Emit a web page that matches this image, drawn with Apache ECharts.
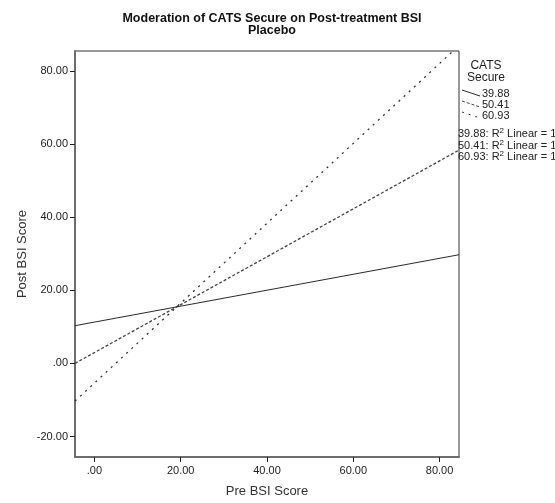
<!DOCTYPE html>
<html>
<head>
<meta charset="utf-8">
<script src="https://cdn.jsdelivr.net/npm/echarts@6/dist/echarts.min.js"></script>
<style>
  html, body { margin: 0; padding: 0; background: #fff; }
  #chart { width: 555px; height: 503px; }
</style>
</head>
<body>
<div id="chart"></div>
<script>
// Fit lines of Post BSI on Pre BSI at three levels of CATS Secure
const preBsi = [-4.5, 84.5];            // x endpoints of each fit line
const post3988 = [10.3, 29.7];          // CATS Secure = 39.88
const post5041 = [0.0, 58.3];           // CATS Secure = 50.41
const post6093 = [-10.3, 86.9];         // CATS Secure = 60.93
const secureLevels = ['39.88', '50.41', '60.93'];
const xTicks = [0, 20, 40, 60, 80];
const yTicks = [-20, 0, 20, 40, 60, 80];

const FONT = '"Liberation Sans", Arial, sans-serif';

function fmt(v) {
  if (v === 0) return '.00';
  return v.toFixed(2);
}

function pairs(xs, ys) {
  return xs.map((x, i) => [x, ys[i]]);
}

const lineStyles = [
  { color: '#2a2a2a', width: 1, type: 'solid' },
  { color: '#444444', width: 1.3, type: [3, 2] },
  { color: '#333333', width: 1.3, type: [2, 5] }
];
const seriesValues = [post3988, post5041, post6093];

const chart = echarts.init(document.getElementById('chart'), null, { renderer: 'canvas' });

const legendX = 462;
const legendRows = [94, 105, 116];
const legendGraphics = [];
legendRows.forEach((y, i) => {
  legendGraphics.push({
    type: 'line',
    shape: { x1: legendX, y1: y - 4, x2: legendX + 18, y2: y + 2 },
    style: { stroke: lineStyles[i].color, lineWidth: 1, lineDash: i === 0 ? null : lineStyles[i].type }
  });
  legendGraphics.push({
    type: 'text',
    x: legendX + 20, y: y,
    style: { text: secureLevels[i], font: '11px ' + FONT, fill: '#222', verticalAlign: 'middle', align: 'left' }
  });
});
[134, 146, 157].forEach((y, i) => {
  legendGraphics.push({
    type: 'text',
    x: 458, y: y,
    style: {
      text: secureLevels[i] + ': R{sup|2} Linear = 1',
      font: '11px ' + FONT, fill: '#222', verticalAlign: 'middle', align: 'left',
      rich: { sup: { fontSize: 8, verticalAlign: 'top', padding: [0, 0, 7, 0], fontFamily: FONT } }
    }
  });
});
legendGraphics.push({
  type: 'text', x: 486, y: 66,
  style: { text: 'CATS', font: '12px ' + FONT, fill: '#222', align: 'center', verticalAlign: 'middle' }
});
legendGraphics.push({
  type: 'text', x: 486, y: 78,
  style: { text: 'Secure', font: '12px ' + FONT, fill: '#222', align: 'center', verticalAlign: 'middle' }
});

chart.setOption({
  animation: false,
  backgroundColor: '#ffffff',
  title: {
    text: 'Moderation of CATS Secure on Post-treatment BSI\nPlacebo',
    left: 267,
    top: 8,
    textAlign: 'center',
    textStyle: { fontFamily: FONT, fontSize: 12.5, fontWeight: 'bold', color: '#111', lineHeight: 12 }
  },
  grid: {
    left: 75, right: 96, top: 51, bottom: 41,
    show: true, borderColor: '#333', borderWidth: 1, backgroundColor: 'transparent'
  },
  xAxis: {
    type: 'value',
    min: preBsi[0], max: preBsi[1],
    name: 'Pre BSI Score',
    nameLocation: 'middle',
    nameGap: 28,
    nameMoveOverlap: false,
    nameTextStyle: { fontFamily: FONT, fontSize: 13, color: '#333' },
    axisLine: { show: true, onZero: false, lineStyle: { color: '#6e6e6e', width: 2 } },
    axisTick: { show: true, length: 5, customValues: xTicks, lineStyle: { color: '#222', width: 1 } },
    axisLabel: { customValues: xTicks, formatter: fmt, fontFamily: FONT, fontSize: 11, color: '#222', margin: 8 },
    splitLine: { show: false }
  },
  yAxis: {
    type: 'value',
    min: -25.6, max: 85.4,
    name: 'Post BSI Score',
    nameLocation: 'middle',
    nameGap: 46,
    nameMoveOverlap: false,
    nameRotate: 90,
    nameTextStyle: { fontFamily: FONT, fontSize: 13, color: '#333' },
    axisLine: { show: true, onZero: false, lineStyle: { color: '#6e6e6e', width: 2 } },
    axisTick: { show: true, length: 5, customValues: yTicks, lineStyle: { color: '#222', width: 1 } },
    axisLabel: { customValues: yTicks, formatter: fmt, fontFamily: FONT, fontSize: 11, color: '#222', margin: 7 },
    splitLine: { show: false }
  },
  series: seriesValues.map((vals, i) => ({
    name: secureLevels[i],
    type: 'line',
    data: pairs(preBsi, vals),
    showSymbol: false,
    clip: true,
    lineStyle: lineStyles[i],
    z: 3 - i
  })),
  graphic: legendGraphics
});
</script>
</body>
</html>
